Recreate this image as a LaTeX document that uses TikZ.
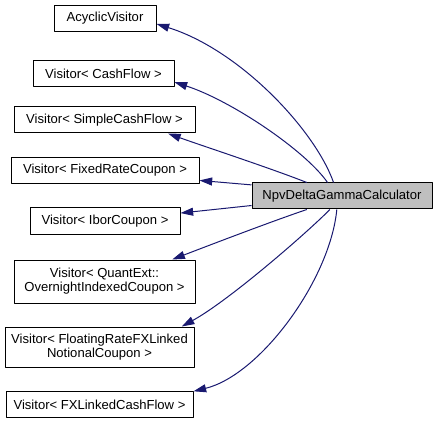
\documentclass[tikz,border=0pt]{standalone}
\usepackage{fontspec}
\setmainfont{Liberation Sans}
\usetikzlibrary{arrows.meta}
\begin{document}
\begin{tikzpicture}[x=0.75pt, y=-0.75pt, font=\fontsize{9.8}{10.5}\selectfont, line join=round, >={Triangle[length=9.5pt, width=6pt]},
	cls/.style={draw=black, line width=0.75pt, fill=white, inner sep=0pt, minimum height=19.5pt, align=center},
	derived/.style={cls, fill=black!25},
	dep/.style={->, draw={rgb,255:red,25;green,25;blue,112}, fill=none, line width=0.75pt}]
	\useasboundingbox (0,0) rectangle (439,424);
	% base classes
	\node[cls, minimum width=76.5pt] (acyc) at (105,18.5) {AcyclicVisitor};
	\node[cls, minimum width=105.75pt] (cash) at (103.5,73.5) {Visitor< CashFlow >};
	\node[cls, minimum width=135.75pt] (simple) at (104.5,120) {Visitor< SimpleCashFlow >};
	\node[cls, minimum width=141pt] (fixed) at (105,170.5) {Visitor< FixedRateCoupon >};
	\node[cls, minimum width=112.5pt] (ibor) at (105,221) {Visitor< IborCoupon >};
	\node[cls, minimum width=135.75pt, minimum height=32.25pt] (quant) at (104.5,281.5) {Visitor< QuantExt::\\OvernightIndexedCoupon >};
	\node[cls, minimum width=141.75pt, minimum height=30pt] (float) at (99.5,347) {Visitor< FloatingRateFXLinked\\NotionalCoupon >};
	\node[cls, minimum width=140.25pt] (fxl) at (99.5,404.5) {Visitor< FXLinkedCashFlow >};
	% the calculator
	\node[derived, minimum width=135pt] (npv) at (342,196) {NpvDeltaGammaCalculator};
	% inheritance
	\draw[dep] (npv.122) .. controls (315,130) and (240,50) .. (acyc.-6);
	\draw[dep] (npv.137) .. controls (305,150) and (230,100) .. (cash.-7);
	\draw[dep] (npv.159) .. controls (270,168) and (200,145) .. (simple.-12.7);
	\draw[dep] (npv.173) -- (fixed.-6.9);
	\draw[dep] (npv.-174) -- (ibor.6);
	\draw[dep] (npv.-159.6) .. controls (270,222) and (210,245) .. (quant.18.7);
	\draw[dep] (npv.-132.7) .. controls (310,230) and (230,300) .. (float.14.3);
	\draw[dep] (npv.-111) .. controls (330,280) and (260,375) .. (fxl.8.3);
\end{tikzpicture}
\end{document}
